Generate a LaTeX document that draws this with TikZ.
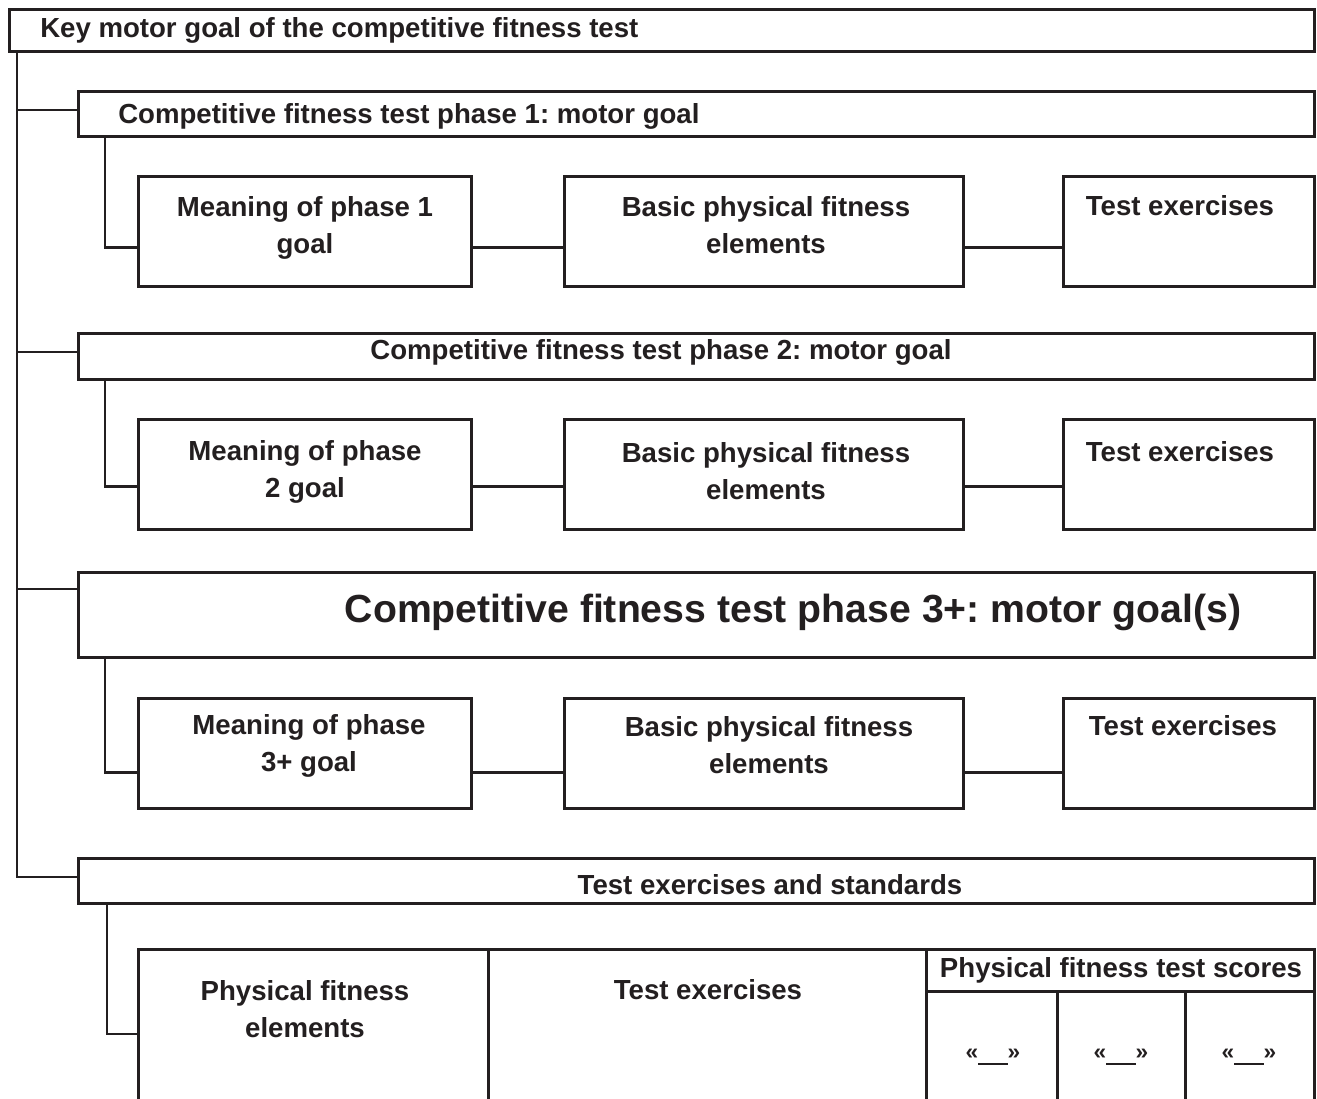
\documentclass[tikz,border=0pt]{standalone}
\usepackage{fontspec}
\setmainfont{Liberation Sans}
\frenchspacing
\usetikzlibrary{calc}
\definecolor{ink}{HTML}{231F20}
\tikzset{
  box/.style={draw=ink, line width=1.9pt, rectangle, inner sep=0pt, anchor=north west},
  conn/.style={draw=ink, line width=1.9pt},
  txt/.style={text=ink, font=\bfseries\fontsize{20.7}{27.75}\selectfont, align=center, inner sep=0pt},
  bigtxt/.style={text=ink, font=\bfseries\fontsize{29.4}{36}\selectfont, inner sep=0pt},
}
\begin{document}
\begin{tikzpicture}[x=0.75pt,y=-0.75pt]
\clip (0,0) rectangle (1317,1099);
\fill[white] (0,0) rectangle (1317,1099);
% top box
\node[box, minimum width=1305*0.75pt, minimum height=42*0.75pt] (top) at (8,8) {};
\node[txt, anchor=west] (toptxt) at (40,30) {Key motor goal of the competitive fitness test};
% phase boxes
\node[box, minimum width=1236*0.75pt, minimum height=45*0.75pt] (p1) at (77,90) {};
\node[txt, anchor=west] (p1t) at (118,116) {Competitive fitness test phase 1: motor goal};
\node[box, minimum width=1236*0.75pt, minimum height=46*0.75pt] (p2) at (77,332) {};
\node[txt] (p2t) at (661,352) {Competitive fitness test phase 2: motor goal};
\node[box, minimum width=1236*0.75pt, minimum height=85*0.75pt] (p3) at (77,571) {};
\node[bigtxt] (p3t) at (793,612) {Competitive fitness test phase 3+: motor goal(s)};
\node[box, minimum width=1236*0.75pt, minimum height=45*0.75pt] (p4) at (77,857) {};
\node[txt] (p4t) at (770,885) {Test exercises and standards};
% row boxes
\foreach \r/\y in {1/175, 2/418, 3/697} {
  \node[box, minimum width=333*0.75pt, minimum height=110*0.75pt] (m\r) at (137,\y) {};
  \node[box, minimum width=399*0.75pt, minimum height=110*0.75pt] (b\r) at (563,\y) {};
  \node[box, minimum width=251*0.75pt, minimum height=110*0.75pt] (t\r) at (1062,\y) {};
}
\node[txt] (m1t) at (305,228) {Meaning of phase 1\\goal};
\node[txt] (b1t) at (766,225) {Basic physical fitness\\elements};
\node[txt] (t1t) at (1180,206) {Test exercises};
\node[txt] (m2t) at (305,472) {Meaning of phase\\2 goal};
\node[txt] (b2t) at (766,471) {Basic physical fitness\\elements};
\node[txt] (t2t) at (1180,452) {Test exercises};
\node[txt] (m3t) at (309,746) {Meaning of phase\\3+ goal};
\node[txt] (b3t) at (769,745) {Basic physical fitness\\elements};
\node[txt] (t3t) at (1183,726) {Test exercises};
% table cells
\node[box, minimum width=350*0.75pt, minimum height=170*0.75pt] (c1) at (137,948) {};
\node[box, minimum width=438*0.75pt, minimum height=170*0.75pt] (c2) at (487,948) {};
\node[box, minimum width=388*0.75pt, minimum height=42*0.75pt] (c3) at (925,948) {};
\node[box, minimum width=131*0.75pt, minimum height=130*0.75pt] (s1) at (925,990) {};
\node[box, minimum width=128*0.75pt, minimum height=130*0.75pt] (s2) at (1056,990) {};
\node[box, minimum width=129*0.75pt, minimum height=130*0.75pt] (s3) at (1184,990) {};
\node[txt] (c1t) at (305,1009) {Physical fitness\\elements};
\node[txt] (c2t) at (708,990) {Test exercises};
\node[txt] (c3t) at (1121,970) {Physical fitness test scores};
\foreach \i/\x in {1/993, 2/1121, 3/1249} {
  \node[txt, font=\bfseries\fontsize{17}{20}\selectfont] (q\i) at (\x,1057) {«\rule[-4pt]{22pt}{1.3pt}»};
}
% junction coordinates
\coordinate (spine) at (17,0);
\coordinate (j1) at ($(p1.north west)+(0,20)$);
\coordinate (j2) at ($(p2.north west)+(0,20)$);
\coordinate (j3) at ($(p3.north west)+(0,18)$);
\coordinate (j4) at ($(p4.north west)+(0,20)$);
\draw[conn] (top.south -| spine) |- (j4);
\draw[conn] (spine |- j1) -- (j1);
\draw[conn] (spine |- j2) -- (j2);
\draw[conn] (spine |- j3) -- (j3);
% sub branches
\coordinate (e1) at ($(m1.south west)+(0,-40)$);
\coordinate (e2) at ($(m2.south west)+(0,-44)$);
\coordinate (e3) at ($(m3.south west)+(0,-37)$);
\coordinate (e4) at ($(c1.north west)+(0,86)$);
\draw[conn] ($(p1.south west)+(28,0)$) |- (e1);
\draw[conn] ($(p2.south west)+(28,0)$) |- (e2);
\draw[conn] ($(p3.south west)+(28,0)$) |- (e3);
\draw[conn] ($(p4.south west)+(30,0)$) |- (e4);
% row connectors
\draw[conn] (e1 -| m1.east) -- (e1 -| b1.west);
\draw[conn] (e1 -| b1.east) -- (e1 -| t1.west);
\draw[conn] (e2 -| m2.east) -- (e2 -| b2.west);
\draw[conn] (e2 -| b2.east) -- (e2 -| t2.west);
\draw[conn] (e3 -| m3.east) -- (e3 -| b3.west);
\draw[conn] (e3 -| b3.east) -- (e3 -| t3.west);
\end{tikzpicture}
\end{document}
